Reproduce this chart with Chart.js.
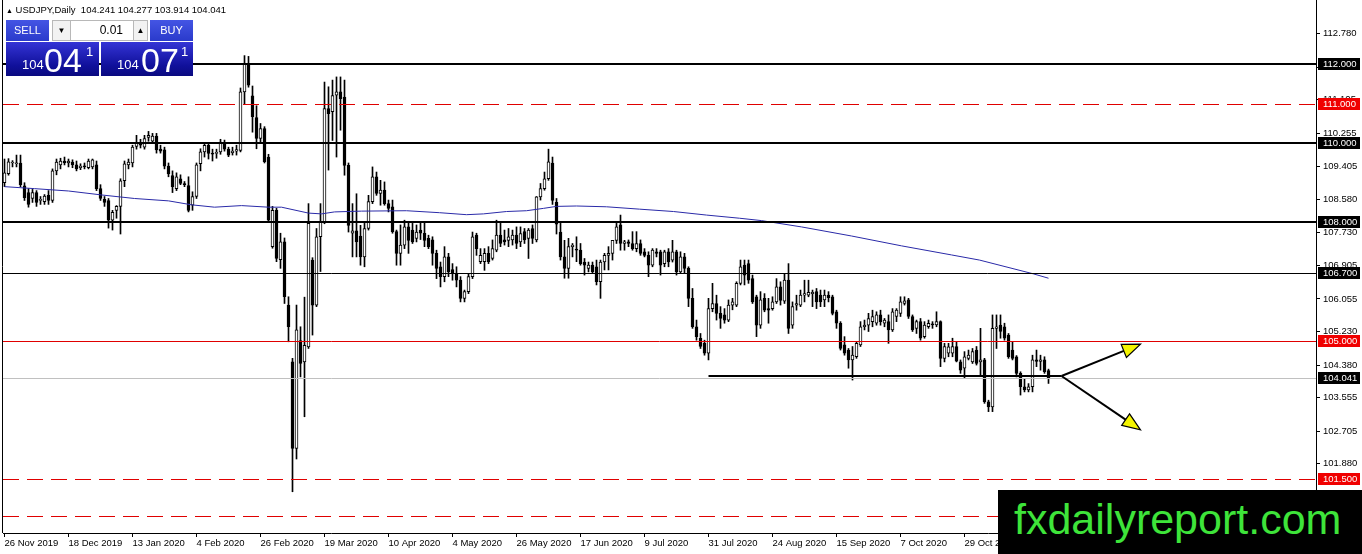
<!DOCTYPE html>
<html>
<head>
<title>USDJPY Daily</title>
<script src="https://cdn.jsdelivr.net/npm/chart.js"></script>
<style>
  body { margin: 0; background: #fff; }
  #wrap { position: relative; width: 1362px; height: 554px; overflow: hidden; font-family: 'Liberation Sans', Arial, sans-serif; }
  #chart { position: absolute; left: 0; top: 0; }
  .abs { position: absolute; }
  .btn { background: linear-gradient(#4455e4, #2a3acb); color: #fff; font-size: 11px; text-align: center; line-height: 21px; }
  .spin { background: #f2f2f2; border: 1px solid #b8b8b8; box-sizing: border-box; font-size: 8px; text-align: center; line-height: 19px; color: #000; }
  .tile { background: linear-gradient(#3434d6, #10109a 70%, #0a0a80); color: #fff; }
</style>
</head>
<body>
<div id="wrap">
  <canvas id="chart" width="1362" height="554"></canvas>

  <div class="abs" style="left:6px;top:4px;font-size:9.5px;color:#000;white-space:pre;"><span style="font-size:7px;">▲</span> USDJPY,Daily  104.241 104.277 103.914 104.041</div>

  <div class="abs btn" style="left:6px;top:20px;width:43px;height:21px;">SELL</div>
  <div class="abs spin" style="left:52px;top:20px;width:19px;height:21px;">▼</div>
  <div class="abs" style="left:71px;top:20px;width:62px;height:21px;background:#fff;border-top:1px solid #b8b8b8;border-bottom:1px solid #b8b8b8;box-sizing:border-box;font-size:12px;text-align:right;padding-right:10px;line-height:19px;">0.01</div>
  <div class="abs spin" style="left:133px;top:20px;width:15px;height:21px;">▲</div>
  <div class="abs btn" style="left:150px;top:20px;width:43px;height:21px;">BUY</div>

  <div class="abs tile" style="left:6px;top:42px;width:93px;height:34px;">
    <span class="abs" style="left:16px;top:15px;font-size:13px;">104</span>
    <span class="abs" style="left:38px;top:-1px;font-size:34px;">04</span>
    <span class="abs" style="left:80px;top:2px;font-size:13px;">1</span>
  </div>
  <div class="abs tile" style="left:101px;top:42px;width:92px;height:34px;">
    <span class="abs" style="left:16px;top:15px;font-size:13px;">104</span>
    <span class="abs" style="left:40px;top:-1px;font-size:34px;">07</span>
    <span class="abs" style="left:80px;top:2px;font-size:13px;">1</span>
  </div>

  <div class="abs" style="left:998px;top:490px;width:364px;height:64px;background:#000;">
    <span class="abs" style="left:16px;top:5px;font-size:43px;color:#3ee43a;white-space:nowrap;">fxdailyreport.com</span>
  </div>
</div>

<script>
// daily bars, index 0 = 26 Nov 2019
var opens = [109.00,109.23,109.50,109.48,109.50,108.92,108.75,108.60,108.75,108.55,108.52,108.68,108.55,109.30,109.45,109.55,109.50,109.52,109.45,109.38,
  109.42,109.38,109.40,109.45,108.85,108.58,108.55,108.05,108.30,108.40,109.05,109.45,109.50,109.92,109.98,109.90,110.15,110.05,110.18,109.85,
  109.83,109.42,109.18,108.85,109.10,108.97,108.93,108.43,108.65,109.48,109.78,109.95,109.75,109.74,109.78,110.02,109.85,109.76,109.80,109.82,
  111.30,112.00,111.20,110.65,110.12,110.37,109.65,107.38,108.30,107.05,107.50,105.90,104.46,102.27,105.00,104.46,104.84,107.04,105.90,107.63,
  108.01,110.88,110.80,111.22,111.30,111.17,109.44,107.72,107.78,107.65,107.12,107.84,108.52,109.15,108.73,108.81,108.47,108.39,107.76,107.21,
  107.42,107.88,107.80,107.59,107.80,107.72,107.59,107.55,107.21,106.87,106.62,107.12,106.80,106.70,106.53,106.07,106.24,106.62,107.67,107.00,
  107.00,107.21,107.08,107.29,107.67,107.55,107.54,107.55,107.67,107.50,107.76,107.59,107.84,107.55,108.64,108.85,109.10,109.50,108.50,107.75,
  107.12,106.83,107.38,107.30,107.29,106.99,106.83,106.91,106.87,106.49,106.99,107.16,107.21,107.54,107.93,107.46,107.50,107.46,107.33,107.46,
  107.25,107.16,106.91,107.25,107.25,106.95,107.25,107.04,107.25,106.74,107.12,106.83,106.07,105.35,105.06,104.93,104.68,105.81,105.94,105.69,
  105.65,105.52,105.90,105.90,106.45,106.91,106.95,106.57,106.11,105.39,106.07,105.81,105.81,105.98,106.36,106.00,106.53,105.39,105.90,105.90,
  106.15,106.15,106.19,106.24,106.15,106.03,106.15,106.11,105.73,105.44,104.89,104.76,104.51,104.59,104.89,105.35,105.39,105.48,105.44,105.65,
  105.44,105.48,105.27,105.61,105.69,105.94,106.03,105.61,105.31,105.48,105.10,105.35,105.42,105.40,105.48,104.55,104.68,104.68,104.85,104.46,
  104.30,104.55,104.46,104.76,104.46,104.51,103.45,103.32,105.31,105.39,105.35,105.14,104.76,104.59,104.17,103.83,103.75,103.83,104.51,104.47,
  104.51,104.241];
var highs = [109.60,109.61,109.56,109.70,109.70,109.00,108.85,108.83,108.80,108.65,108.70,108.80,109.35,109.60,109.62,109.65,109.60,109.58,109.55,109.48,
  109.50,109.60,109.60,109.55,108.95,108.65,108.60,108.30,108.42,109.10,109.55,109.60,109.95,110.20,110.10,110.20,110.30,110.25,110.25,109.95,
  109.90,109.50,109.30,109.25,109.20,109.03,109.15,108.77,109.50,109.86,110.00,110.02,109.85,109.85,110.10,110.08,109.90,109.90,109.95,111.40,
  112.22,112.20,111.45,110.95,110.50,110.42,109.72,108.40,108.35,107.72,107.60,106.11,104.55,105.90,105.35,106.10,108.47,107.10,107.84,108.47,
  111.55,111.43,111.60,111.68,111.68,111.60,109.50,108.47,108.72,107.92,107.97,108.68,109.40,109.27,109.06,109.02,108.56,108.56,107.80,107.93,
  108.05,108.01,107.97,107.93,108.00,108.01,107.67,107.63,107.29,106.99,107.38,107.21,106.95,106.87,106.62,106.28,106.70,107.75,107.72,107.33,
  107.33,107.38,107.55,108.05,107.97,107.80,107.84,107.80,107.88,107.88,107.84,107.84,107.93,108.65,108.98,109.27,109.85,109.65,108.60,107.97,
  107.54,107.59,107.46,107.63,107.46,107.08,106.99,106.99,107.04,107.04,107.21,107.38,107.54,107.97,108.18,107.54,107.55,107.76,107.76,107.55,
  107.33,107.25,107.33,107.33,107.29,107.29,107.33,107.54,107.29,107.25,107.21,106.87,106.32,105.52,105.18,105.01,106.07,106.45,106.15,105.86,
  105.81,106.03,106.07,106.49,107.04,107.04,107.04,106.66,106.15,106.24,106.19,106.07,106.11,106.57,106.49,106.70,106.95,105.98,106.15,106.28,
  106.53,106.53,106.28,106.32,106.28,106.28,106.24,106.15,105.77,105.48,105.10,104.80,104.85,104.97,105.48,105.52,105.69,105.77,105.73,105.77,
  105.56,105.65,105.81,105.81,106.11,106.11,106.07,105.65,105.52,105.56,105.48,105.52,105.48,105.73,105.50,104.93,104.93,105.06,104.97,104.51,
  104.72,104.76,104.80,104.85,105.31,104.55,103.49,105.65,105.65,105.65,105.44,105.18,104.97,104.62,104.21,104.04,103.91,104.63,104.76,104.63,
  104.59,104.277];
var lows = [108.90,109.19,109.40,109.40,108.90,108.55,108.38,108.50,108.40,108.45,108.45,108.45,108.50,109.20,109.35,109.45,109.40,109.38,109.30,109.33,
  109.35,109.35,109.35,108.80,108.55,108.40,107.85,107.80,108.10,107.70,108.90,109.35,109.40,109.85,109.88,109.85,110.05,110.00,109.75,109.75,
  109.35,109.15,108.75,108.80,108.95,108.90,108.26,108.30,108.60,109.30,109.65,109.60,109.55,109.62,109.72,109.80,109.66,109.70,109.70,109.78,
  111.00,111.42,110.28,109.86,110.03,109.50,108.03,107.34,107.00,106.83,105.94,104.97,101.17,102.00,104.08,103.07,104.80,105.14,105.86,106.75,
  107.96,109.32,110.07,109.65,110.33,109.19,107.75,107.12,107.12,106.91,106.87,107.80,108.47,108.68,108.43,108.43,108.26,107.72,106.91,106.91,
  107.33,107.21,107.46,107.50,107.56,107.38,107.33,106.91,106.57,106.36,106.49,106.62,106.53,106.36,105.98,105.98,106.19,106.57,107.16,106.95,
  106.78,106.95,107.04,107.25,107.38,107.42,107.38,107.42,107.33,107.38,107.46,107.08,107.46,107.50,108.56,108.81,109.06,108.45,107.70,107.04,
  106.58,106.58,107.12,107.00,106.91,106.66,106.74,106.70,106.41,106.07,106.79,106.79,107.04,107.46,107.29,107.29,107.38,107.29,107.25,107.16,
  107.12,106.62,106.87,107.12,106.66,106.87,106.87,106.99,106.66,106.70,106.70,105.86,105.31,105.01,104.80,104.63,104.51,105.73,105.52,105.31,
  105.44,105.48,105.78,105.86,106.41,106.41,106.45,105.94,105.10,105.31,105.73,105.44,105.77,105.94,105.90,105.94,105.18,105.31,105.77,105.86,
  105.98,106.11,105.86,105.81,105.86,105.86,105.98,105.65,105.31,104.76,104.63,104.30,104.00,104.55,104.85,105.27,105.23,105.35,105.39,105.39,
  105.35,104.93,105.23,105.48,105.61,105.90,105.56,105.23,105.18,105.01,105.06,105.31,105.31,105.35,104.34,104.46,104.59,104.59,104.46,104.17,
  104.04,104.51,104.42,104.38,104.13,103.41,103.20,103.20,104.80,105.06,105.01,104.55,104.51,104.08,103.62,103.70,103.70,103.70,104.34,104.25,
  104.17,103.914];
var closes = [109.25,109.53,109.52,109.50,108.95,108.62,108.45,108.75,108.50,108.58,108.66,108.55,109.30,109.52,109.55,109.50,109.55,109.45,109.35,109.42,
  109.40,109.55,109.58,108.85,108.60,108.50,108.05,108.25,108.40,109.05,109.48,109.52,109.90,110.00,109.95,110.12,110.20,110.18,109.83,109.80,
  109.42,109.22,108.90,109.15,108.98,108.95,108.30,108.65,109.45,109.78,109.95,109.74,109.72,109.77,110.03,109.85,109.70,109.80,109.84,111.30,
  112.00,111.47,110.67,110.12,110.37,109.53,108.05,108.30,107.08,107.50,106.11,105.35,102.27,105.27,104.42,104.88,107.97,105.90,107.63,108.01,
  110.88,110.75,111.21,111.30,111.13,109.44,107.92,107.78,107.50,107.12,107.84,108.52,109.15,108.73,108.81,108.47,108.35,107.76,107.21,107.42,
  107.88,107.54,107.50,107.75,107.72,107.54,107.38,107.21,106.83,106.62,107.12,106.74,106.70,106.53,106.07,106.24,106.62,107.63,107.33,107.16,
  107.21,107.00,107.33,107.67,107.46,107.50,107.63,107.67,107.46,107.71,107.55,107.80,107.59,108.64,108.85,109.10,109.53,108.55,107.95,107.12,
  106.83,107.38,107.42,107.29,106.95,106.91,106.91,106.74,106.49,106.99,107.16,107.21,107.54,107.88,107.46,107.50,107.46,107.33,107.46,107.21,
  107.16,106.91,107.29,107.21,106.91,107.25,106.99,107.25,106.74,107.12,106.83,106.07,105.35,105.10,104.85,104.68,105.81,105.94,105.69,105.56,
  105.52,105.90,105.98,106.45,106.87,106.66,106.53,105.98,105.39,106.03,105.77,105.77,105.98,106.36,106.02,106.53,105.31,105.86,105.94,106.15,
  106.19,106.22,106.22,105.98,105.98,106.15,106.09,105.69,105.44,104.80,104.68,104.51,104.63,104.93,105.35,105.39,105.56,105.61,105.65,105.48,
  105.52,105.27,105.73,105.77,105.98,106.01,105.61,105.27,105.48,105.06,105.39,105.44,105.40,105.48,104.55,104.85,104.84,104.85,104.48,104.25,
  104.59,104.63,104.72,104.42,104.51,103.45,103.32,105.31,105.35,105.23,105.06,104.59,104.55,104.17,103.83,103.75,103.83,104.51,104.47,104.51,
  104.21,104.041];

// blue moving average, read at points along the line (bar index, price)
var maIdx = [0, 7.5, 16, 24.25, 32.5, 41, 46.75, 52.5, 59.25, 66, 69.25, 76, 79.25, 82.5, 89.25, 100.5, 108.75, 115.5, 119.75, 125.5,
  130.5, 134.75, 138, 143, 150.5, 158.75, 167.25, 175.5, 183.75, 189.25, 199.25, 211.75, 224.25, 236.75, 243.75, 257.25, 261];
var maVal = [108.90, 108.85, 108.79, 108.69, 108.60, 108.54, 108.44, 108.38, 108.42, 108.38, 108.38, 108.23, 108.21, 108.26, 108.28, 108.29, 108.24, 108.19, 108.21, 108.27,
  108.29, 108.35, 108.40, 108.41, 108.39, 108.33, 108.27, 108.18, 108.10, 108.04, 107.88, 107.65, 107.40, 107.17, 107.04, 106.69, 106.58];

// axis ticks
var xTickIdx = [0, 16, 32, 48, 64, 80, 96, 112, 128, 144, 160, 176, 192, 208, 224, 240];
var xTickLabels = ['26 Nov 2019', '18 Dec 2019', '13 Jan 2020', '4 Feb 2020', '26 Feb 2020', '19 Mar 2020', '10 Apr 2020', '4 May 2020',
  '26 May 2020', '17 Jun 2020', '9 Jul 2020', '31 Jul 2020', '24 Aug 2020', '15 Sep 2020', '7 Oct 2020', '29 Oct 2020'];
var yTicks = [112.780, 111.930, 111.105, 110.255, 109.405, 108.580, 107.730, 106.905, 106.055, 105.230, 104.380, 103.555, 102.705, 101.880, 101.030];

// horizontal levels
var blackLevels = [112.000, 110.000, 108.000];
var thinBlackLevels = [106.700];
var redLevels = [105.000];
var redDashedLevels = [111.000, 101.500, 100.550];
var bidPrice = 104.041;

// support line and the two scenario arrows (bar index, price)
var supportStart = 176, supportEnd = 264.25, supportPrice = 104.11;
var arrowTips = [[284, 104.91], [284, 102.74]];

var isUp = function (i) { return closes[i] >= opens[i]; };

var levelsPlugin = {
  id: 'levels',
  afterDatasetsDraw: function (chart) {
    var ctx = chart.ctx, a = chart.chartArea, xs = chart.scales.x, ys = chart.scales.y;
    ctx.save();
    function hline(p, color, w, dash) {
      var py = Math.round(ys.getPixelForValue(p)) + (w % 2 ? 0.5 : 0);
      ctx.beginPath();
      ctx.setLineDash(dash || []);
      ctx.strokeStyle = color;
      ctx.lineWidth = w;
      ctx.moveTo(a.left, py);
      ctx.lineTo(a.right, py);
      ctx.stroke();
    }
    hline(bidPrice, '#c0c0c0', 1);
    redDashedLevels.forEach(function (p) { hline(p, '#e00000', 1, [16, 8]); });
    redLevels.forEach(function (p) { hline(p, '#e00000', 1); });
    thinBlackLevels.forEach(function (p) { hline(p, '#000', 1); });
    blackLevels.forEach(function (p) { hline(p, '#000', 2); });

    // support line
    var sy = Math.round(ys.getPixelForValue(supportPrice));
    var x0 = xs.getPixelForValue(supportEnd);
    ctx.setLineDash([]);
    ctx.strokeStyle = '#000';
    ctx.lineWidth = 2;
    ctx.beginPath();
    ctx.moveTo(xs.getPixelForValue(supportStart), sy);
    ctx.lineTo(x0, sy);
    ctx.stroke();

    // arrows
    arrowTips.forEach(function (t) {
      var x1 = xs.getPixelForValue(t[0]), y1 = ys.getPixelForValue(t[1]);
      var ang = Math.atan2(y1 - sy, x1 - x0), L = 18, W = 7;
      var bx = x1 - L * Math.cos(ang), by = y1 - L * Math.sin(ang);
      ctx.lineWidth = 2;
      ctx.beginPath();
      ctx.moveTo(x0, sy);
      ctx.lineTo(bx, by);
      ctx.stroke();
      ctx.beginPath();
      ctx.moveTo(x1, y1);
      ctx.lineTo(bx + W * Math.sin(ang), by - W * Math.cos(ang));
      ctx.lineTo(bx - W * Math.sin(ang), by + W * Math.cos(ang));
      ctx.closePath();
      ctx.fillStyle = '#f4f400';
      ctx.fill();
      ctx.lineWidth = 1.2;
      ctx.stroke();
    });
    ctx.restore();
  },
  afterDraw: function (chart) {
    var ctx = chart.ctx, a = chart.chartArea, ys = chart.scales.y;
    ctx.save();
    // left frame line
    ctx.strokeStyle = '#000';
    ctx.lineWidth = 1;
    ctx.beginPath();
    ctx.moveTo(a.left - 0.5, a.top);
    ctx.lineTo(a.left - 0.5, a.bottom);
    ctx.stroke();
    // price boxes on the right axis
    ctx.font = '9.5px "Liberation Sans", Arial, sans-serif';
    ctx.textBaseline = 'middle';
    function box(p, bg) {
      var py = Math.round(ys.getPixelForValue(p));
      ctx.fillStyle = bg;
      ctx.fillRect(a.right + 2, py - 6, 42, 12);
      ctx.fillStyle = '#fff';
      ctx.fillText(p.toFixed(3), a.right + 7, py + 0.5);
    }
    blackLevels.concat(thinBlackLevels).forEach(function (p) { box(p, '#000'); });
    box(bidPrice, '#000');
    redLevels.forEach(function (p) { box(p, '#f00000'); });
    box(111.000, '#f00000');
    box(101.500, '#f00000');
    ctx.restore();
  }
};

var wicks = lows.map(function (l, i) { return { x: i, y: [l, highs[i]] }; });
var bodies = opens.map(function (o, i) { return { x: i, y: [o, closes[i]] }; });
var ma = maIdx.map(function (v, i) { return { x: v, y: maVal[i] }; });

var ctx = document.getElementById('chart').getContext('2d');
var myChart = new Chart(ctx, {
  type: 'bar',
  data: {
    datasets: [
      {
        type: 'line', data: ma, borderColor: '#2a2aa8', borderWidth: 1,
        pointRadius: 0, tension: 0, order: 0
      },
      {
        data: bodies, grouped: false, barThickness: 3, minBarLength: 1,
        backgroundColor: function (c) { return isUp(c.dataIndex) ? '#ffffff' : '#000000'; },
        borderColor: '#000', borderWidth: 1, borderSkipped: false, order: 1
      },
      {
        data: wicks, grouped: false, barThickness: 1,
        backgroundColor: '#000', borderWidth: 0, order: 2
      }
    ]
  },
  options: {
    responsive: false,
    animation: false,
    devicePixelRatio: 1,
    layout: { padding: { left: 3, top: 0, right: 0, bottom: 0 } },
    plugins: { legend: { display: false }, tooltip: { enabled: false } },
    scales: {
      x: {
        type: 'linear', min: -0.375, max: 327.875, offset: false,
        border: { display: true, color: '#000', width: 1 },
        grid: { offset: false, drawOnChartArea: false, drawTicks: true, tickLength: 4, color: '#000' },
        ticks: {
          align: 'start', maxRotation: 0, autoSkip: false, padding: 1, color: '#000',
          font: { family: 'Liberation Sans', size: 9.5 },
          callback: function (v) { return xTickLabels[xTickIdx.indexOf(v)]; }
        },
        afterBuildTicks: function (s) { s.ticks = xTickIdx.map(function (v) { return { value: v }; }); },
        afterFit: function (s) { s.height = 21; s.paddingLeft = 0; s.paddingRight = 0; }
      },
      y: {
        position: 'right', min: 100.125, max: 113.629,
        border: { display: true, color: '#000', width: 1 },
        grid: { drawOnChartArea: false, drawTicks: true, tickLength: 4, color: '#000' },
        ticks: {
          padding: 3, color: '#000',
          font: { family: 'Liberation Sans', size: 9.5 },
          callback: function (v) { return v.toFixed(3); }
        },
        afterBuildTicks: function (s) { s.ticks = yTicks.map(function (v) { return { value: v }; }); },
        afterFit: function (s) { s.width = 46; s.paddingTop = 0; s.paddingBottom = 0; }
      }
    }
  },
  plugins: [levelsPlugin]
});
</script>
</body>
</html>
